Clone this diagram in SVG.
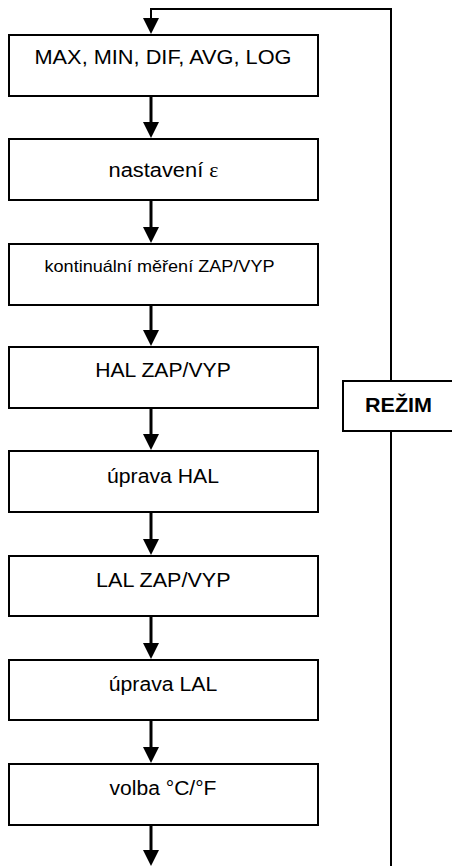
<svg xmlns="http://www.w3.org/2000/svg" width="452" height="866" viewBox="0 0 452 866">
<style>
.box{fill:#fff;stroke:#000;stroke-width:2}
.lbl{font-family:"Liberation Sans",Arial,sans-serif;font-size:20px;fill:#000;text-anchor:middle}
.sm{font-size:16.5px}
.bold{font-weight:bold}
.serif{font-family:"Liberation Serif","Times New Roman",serif}
.con{fill:none;stroke:#000;stroke-width:3}
.loop{fill:none;stroke:#000;stroke-width:2}
</style>
<defs>
<marker id="ah" viewBox="0 0 16 16" refX="0" refY="8" markerWidth="16" markerHeight="16" markerUnits="userSpaceOnUse" orient="auto">
<path d="M0,0 L16,8 L0,16 z" fill="#000"/>
</marker>
</defs>
<g id="connectors">
<path class="loop" d="M391,866 V9 H151 V18" marker-end="url(#ah)"/>
<path class="con" d="M151,97 V122" marker-end="url(#ah)"/>
<path class="con" d="M151,201 V227" marker-end="url(#ah)"/>
<path class="con" d="M151,306 V330" marker-end="url(#ah)"/>
<path class="con" d="M151,409 V434" marker-end="url(#ah)"/>
<path class="con" d="M151,513 V539" marker-end="url(#ah)"/>
<path class="con" d="M151,617 V643" marker-end="url(#ah)"/>
<path class="con" d="M151,721 V747" marker-end="url(#ah)"/>
<path class="con" d="M151,826 V850" marker-end="url(#ah)"/>
</g>
<g id="n1"><rect class="box" x="9" y="35" width="309" height="61"/><text class="lbl" x="163" y="64" textLength="257" lengthAdjust="spacingAndGlyphs">MAX, MIN, DIF, AVG, LOG</text></g>
<g id="n2"><rect class="box" x="9" y="139" width="309" height="61"/><text class="lbl" x="163.5" y="177" textLength="110" lengthAdjust="spacingAndGlyphs">nastavení <tspan class="serif">ε</tspan></text></g>
<g id="n3"><rect class="box" x="9" y="244" width="309" height="61"/><text class="lbl sm" x="159.5" y="272" textLength="230" lengthAdjust="spacingAndGlyphs">kontinuální měření ZAP/VYP</text></g>
<g id="n4"><rect class="box" x="9" y="347" width="309" height="61"/><text class="lbl" x="163" y="377" textLength="135.5" lengthAdjust="spacingAndGlyphs">HAL ZAP/VYP</text></g>
<g id="n5"><rect class="box" x="9" y="451" width="309" height="61"/><text class="lbl" x="163" y="482.5" textLength="112" lengthAdjust="spacingAndGlyphs">úprava HAL</text></g>
<g id="n6"><rect class="box" x="9" y="556" width="309" height="60"/><text class="lbl" x="163.3" y="587" textLength="134.5" lengthAdjust="spacingAndGlyphs">LAL ZAP/VYP</text></g>
<g id="n7"><rect class="box" x="9" y="660" width="309" height="60"/><text class="lbl" x="163" y="691" textLength="108.5" lengthAdjust="spacingAndGlyphs">úprava LAL</text></g>
<g id="n8"><rect class="box" x="9" y="764" width="309" height="61"/><text class="lbl" x="163" y="794.5" textLength="107" lengthAdjust="spacingAndGlyphs">volba °C/°F</text></g>
<g id="rezim"><rect class="box" x="343" y="381" width="120" height="50"/><text class="lbl bold" x="398.5" y="412" textLength="67" lengthAdjust="spacingAndGlyphs">REŽIM</text></g>
</svg>
